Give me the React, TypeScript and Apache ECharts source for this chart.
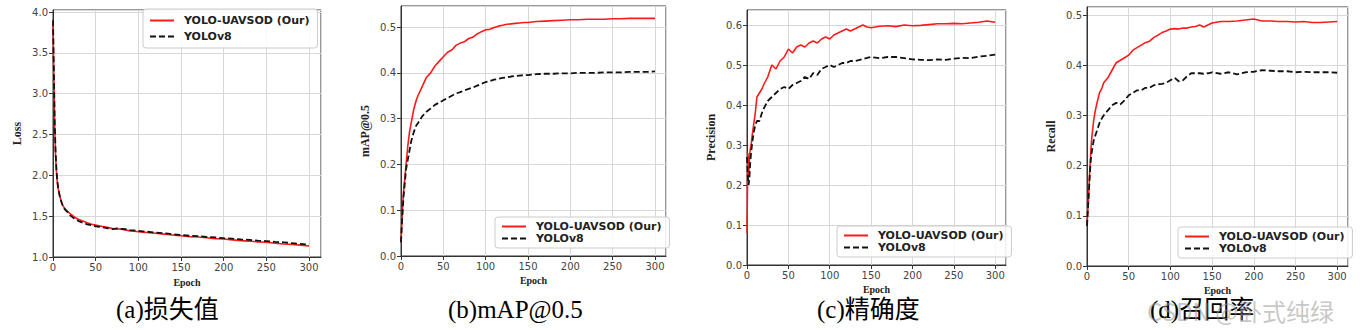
import React, { useEffect, useRef } from "react";
import * as echarts from "echarts";

const epochs = [0,1,2,3,4,5,6,8,10,12,15,18,20,25,30,35,40,45,50,55,60,65,70,75,80,85,90,95,100,105,110,115,120,125,130,135,140,145,150,160,170,180,190,200,210,220,230,240,250,260,270,280,290,300];

const lossOur = [3.88,3.2,2.6,2.25,2.05,1.92,1.84,1.74,1.67,1.62,1.58,1.55,1.53,1.49,1.46,1.44,1.42,1.40,1.39,1.38,1.37,1.36,1.35,1.345,1.34,1.33,1.32,1.315,1.31,1.305,1.30,1.295,1.29,1.285,1.28,1.275,1.27,1.265,1.26,1.25,1.245,1.235,1.225,1.22,1.21,1.20,1.195,1.185,1.18,1.17,1.16,1.155,1.145,1.135];
const lossV8 = [3.9,3.3,2.65,2.3,2.08,1.94,1.85,1.74,1.67,1.61,1.57,1.54,1.51,1.47,1.44,1.42,1.40,1.39,1.375,1.37,1.36,1.35,1.34,1.35,1.345,1.34,1.33,1.325,1.32,1.315,1.31,1.305,1.30,1.295,1.29,1.285,1.28,1.275,1.27,1.26,1.255,1.245,1.24,1.23,1.225,1.215,1.21,1.20,1.195,1.185,1.18,1.17,1.16,1.15];

const mapOur = [0.03,0.07,0.11,0.14,0.16,0.18,0.2,0.24,0.27,0.29,0.32,0.34,0.35,0.37,0.39,0.40,0.415,0.425,0.435,0.445,0.45,0.46,0.465,0.468,0.475,0.478,0.485,0.49,0.494,0.495,0.499,0.502,0.504,0.506,0.507,0.508,0.509,0.51,0.51,0.512,0.513,0.514,0.515,0.516,0.516,0.517,0.517,0.517,0.518,0.518,0.519,0.519,0.519,0.519];
const mapV8 = [0.03,0.07,0.1,0.13,0.15,0.17,0.19,0.21,0.23,0.25,0.27,0.285,0.29,0.305,0.315,0.322,0.33,0.335,0.34,0.345,0.35,0.355,0.358,0.362,0.365,0.368,0.372,0.376,0.38,0.382,0.385,0.387,0.389,0.39,0.392,0.393,0.394,0.395,0.395,0.397,0.398,0.398,0.399,0.399,0.4,0.4,0.4,0.401,0.401,0.401,0.402,0.402,0.402,0.403];

const precOur = [0.08,0.28,0.22,0.27,0.29,0.3,0.32,0.35,0.38,0.42,0.43,0.44,0.45,0.47,0.50,0.49,0.51,0.52,0.54,0.53,0.545,0.55,0.545,0.555,0.56,0.555,0.565,0.57,0.565,0.575,0.58,0.585,0.59,0.585,0.59,0.595,0.60,0.595,0.593,0.597,0.598,0.596,0.60,0.598,0.599,0.601,0.603,0.603,0.604,0.603,0.605,0.607,0.61,0.607];
const precV8 = [0.27,0.22,0.2,0.22,0.26,0.28,0.3,0.33,0.35,0.36,0.36,0.38,0.39,0.41,0.42,0.43,0.44,0.445,0.44,0.45,0.455,0.46,0.47,0.465,0.48,0.475,0.49,0.495,0.50,0.495,0.50,0.505,0.505,0.51,0.51,0.512,0.515,0.518,0.52,0.517,0.52,0.52,0.517,0.514,0.513,0.512,0.514,0.513,0.516,0.518,0.517,0.521,0.523,0.526];

const recOur = [0.08,0.11,0.14,0.18,0.21,0.24,0.26,0.29,0.31,0.325,0.345,0.355,0.365,0.375,0.39,0.405,0.41,0.415,0.42,0.43,0.435,0.44,0.445,0.448,0.455,0.46,0.465,0.468,0.472,0.473,0.472,0.474,0.474,0.476,0.477,0.48,0.476,0.48,0.484,0.487,0.487,0.488,0.49,0.492,0.488,0.488,0.487,0.487,0.486,0.487,0.485,0.485,0.486,0.487];
const recV8 = [0.08,0.11,0.14,0.17,0.2,0.22,0.23,0.25,0.26,0.27,0.285,0.295,0.30,0.31,0.32,0.325,0.322,0.33,0.34,0.345,0.35,0.35,0.355,0.355,0.36,0.362,0.363,0.365,0.37,0.375,0.368,0.37,0.378,0.384,0.384,0.384,0.383,0.384,0.386,0.383,0.386,0.382,0.386,0.387,0.39,0.389,0.388,0.388,0.386,0.387,0.386,0.386,0.386,0.385];

const seriesNames = ["YOLO-UAVSOD (Our)", "YOLOv8"];
const yTitles = ["Loss", "mAP@0.5", "Precision", "Recall"];
const xTitle = "Epoch";
const captions = ["(a)损失值", "(b)mAP@0.5", "(c)精确度", "(d)召回率"];
const watermark = "CSDN @卧式纯绿";

const panels = [
  { our: lossOur, v8: lossV8, ymin: 1, ymax: 4.025, yint: 0.5, grid: { left: 53, top: 10, width: 268, height: 247 }, xmax: 314, epochGap: 20,
    legend: { left: 143, top: 9 }, caption: { left: 116, top: 297 } },
  { our: mapOur, v8: mapV8, ymin: 0, ymax: 0.546, yint: 0.1, grid: { left: 401, top: 6, width: 265, height: 250 }, xmax: 313, epochGap: 19,
    legend: { left: 495, top: 217 }, caption: { left: 448, top: 297 } },
  { our: precOur, v8: precV8, ymin: 0, ymax: 0.6375, yint: 0.1, grid: { left: 747, top: 10, width: 259, height: 255 }, xmax: 313, epochGap: 13,
    legend: { left: 837, top: 226 }, caption: { left: 817, top: 297 } },
  { our: recOur, v8: recV8, ymin: 0, ymax: 0.516, yint: 0.1, grid: { left: 1087, top: 7, width: 261, height: 259 }, xmax: 313, epochGap: 14,
    legend: { left: 1178, top: 227 }, caption: { left: 1150, top: 297 } },
];

const SANS = "DejaVu Sans, sans-serif";
const SERIF = "Liberation Serif, Noto Sans CJK SC, serif";

export default function App() {
  const ref = useRef<HTMLDivElement>(null);
  useEffect(() => {
    if (!ref.current) return;
    const chart = echarts.init(ref.current, undefined, { renderer: "svg" });
    const grid: any[] = [];
    const xAxis: any[] = [];
    const yAxis: any[] = [];
    const series: any[] = [];
    const legend: any[] = [];
    const title: any[] = [];
    panels.forEach((p, i) => {
      grid.push({ ...p.grid, show: true, borderColor: "#333", borderWidth: 1, backgroundColor: "#fff" });
      xAxis.push({
        type: "value", gridIndex: i, min: 0, max: p.xmax, interval: 50,
        name: xTitle, nameLocation: "middle", nameGap: p.epochGap,
        nameTextStyle: { fontFamily: SERIF, fontWeight: "bold", fontSize: 10, color: "#222" },
        axisLine: { show: true, onZero: false, lineStyle: { color: "#333", width: 1 } },
        axisTick: { show: true, length: 4, lineStyle: { color: "#333" } },
        axisLabel: { showMaxLabel: false, fontFamily: SANS, fontSize: 10, color: "#444", margin: 5 },
        splitLine: { show: true, lineStyle: { color: "#d8d8d8", width: 1 } },
      });
      yAxis.push({
        type: "value", gridIndex: i, min: p.ymin, max: p.ymax, interval: p.yint,
        name: yTitles[i], nameLocation: "middle", nameGap: 30, nameRotate: 90,
        nameTextStyle: { fontFamily: SERIF, fontWeight: "bold", fontSize: 12, color: "#222" },
        axisLine: { show: true, onZero: false, lineStyle: { color: "#333", width: 1 } },
        axisTick: { show: true, length: 4, lineStyle: { color: "#333" } },
        axisLabel: { showMaxLabel: false, fontFamily: SANS, fontSize: 10, color: "#444", margin: 5,
          formatter: (v: number) => v.toFixed(1) },
        splitLine: { show: true, lineStyle: { color: "#d8d8d8", width: 1 } },
      });
      series.push({
        type: "line", name: seriesNames[0], xAxisIndex: i, yAxisIndex: i, showSymbol: false, symbol: "circle",
        data: epochs.map((e, k) => [e, p.our[k]]),
        lineStyle: { color: "#ff1a1a", width: 1.6 }, itemStyle: { color: "#ff1a1a" }, z: 2,
      });
      series.push({
        type: "line", name: seriesNames[1], xAxisIndex: i, yAxisIndex: i, showSymbol: false, symbol: "circle",
        data: epochs.map((e, k) => [e, p.v8[k]]),
        lineStyle: { color: "#111", width: 1.8, type: [6, 3] }, itemStyle: { color: "#111" }, z: 3,
      });
      legend.push({
        data: seriesNames, orient: "vertical", left: p.legend.left, top: p.legend.top,
        padding: i === 0 ? [6, 8, 6, 6] : [4, 8, 4, 6], itemGap: i === 0 ? 5 : 1, itemWidth: 24, itemHeight: 12,
        itemStyle: { opacity: 0 },
        borderColor: "#ccc", borderWidth: 1, borderRadius: 3, backgroundColor: "rgba(255,255,255,0.85)",
        textStyle: { fontFamily: SANS, fontWeight: "bold", fontSize: 11, color: "#222", padding: [0, 0, 0, 5] },
        selectedMode: false,
      });
      title.push({
        text: captions[i], left: p.caption.left, top: p.caption.top, padding: 0,
        textStyle: { fontFamily: SERIF, fontWeight: "normal", fontSize: 25, color: "#000" },
      });
    });
    chart.setOption({
      animation: false,
      backgroundColor: "#fff",
      grid, xAxis, yAxis, series, legend, title,
      graphic: [
        { type: "text", left: 1147, top: 298, z: 100,
          style: { text: watermark, fontFamily: "Noto Sans CJK SC, sans-serif", fontSize: 24, fill: "rgba(150,150,150,0.55)" } },
      ],
    });
    return () => chart.dispose();
  }, []);
  return <div ref={ref} style={{ position: "fixed", left: 0, top: 0, width: 1360, height: 330 }} />;
}
